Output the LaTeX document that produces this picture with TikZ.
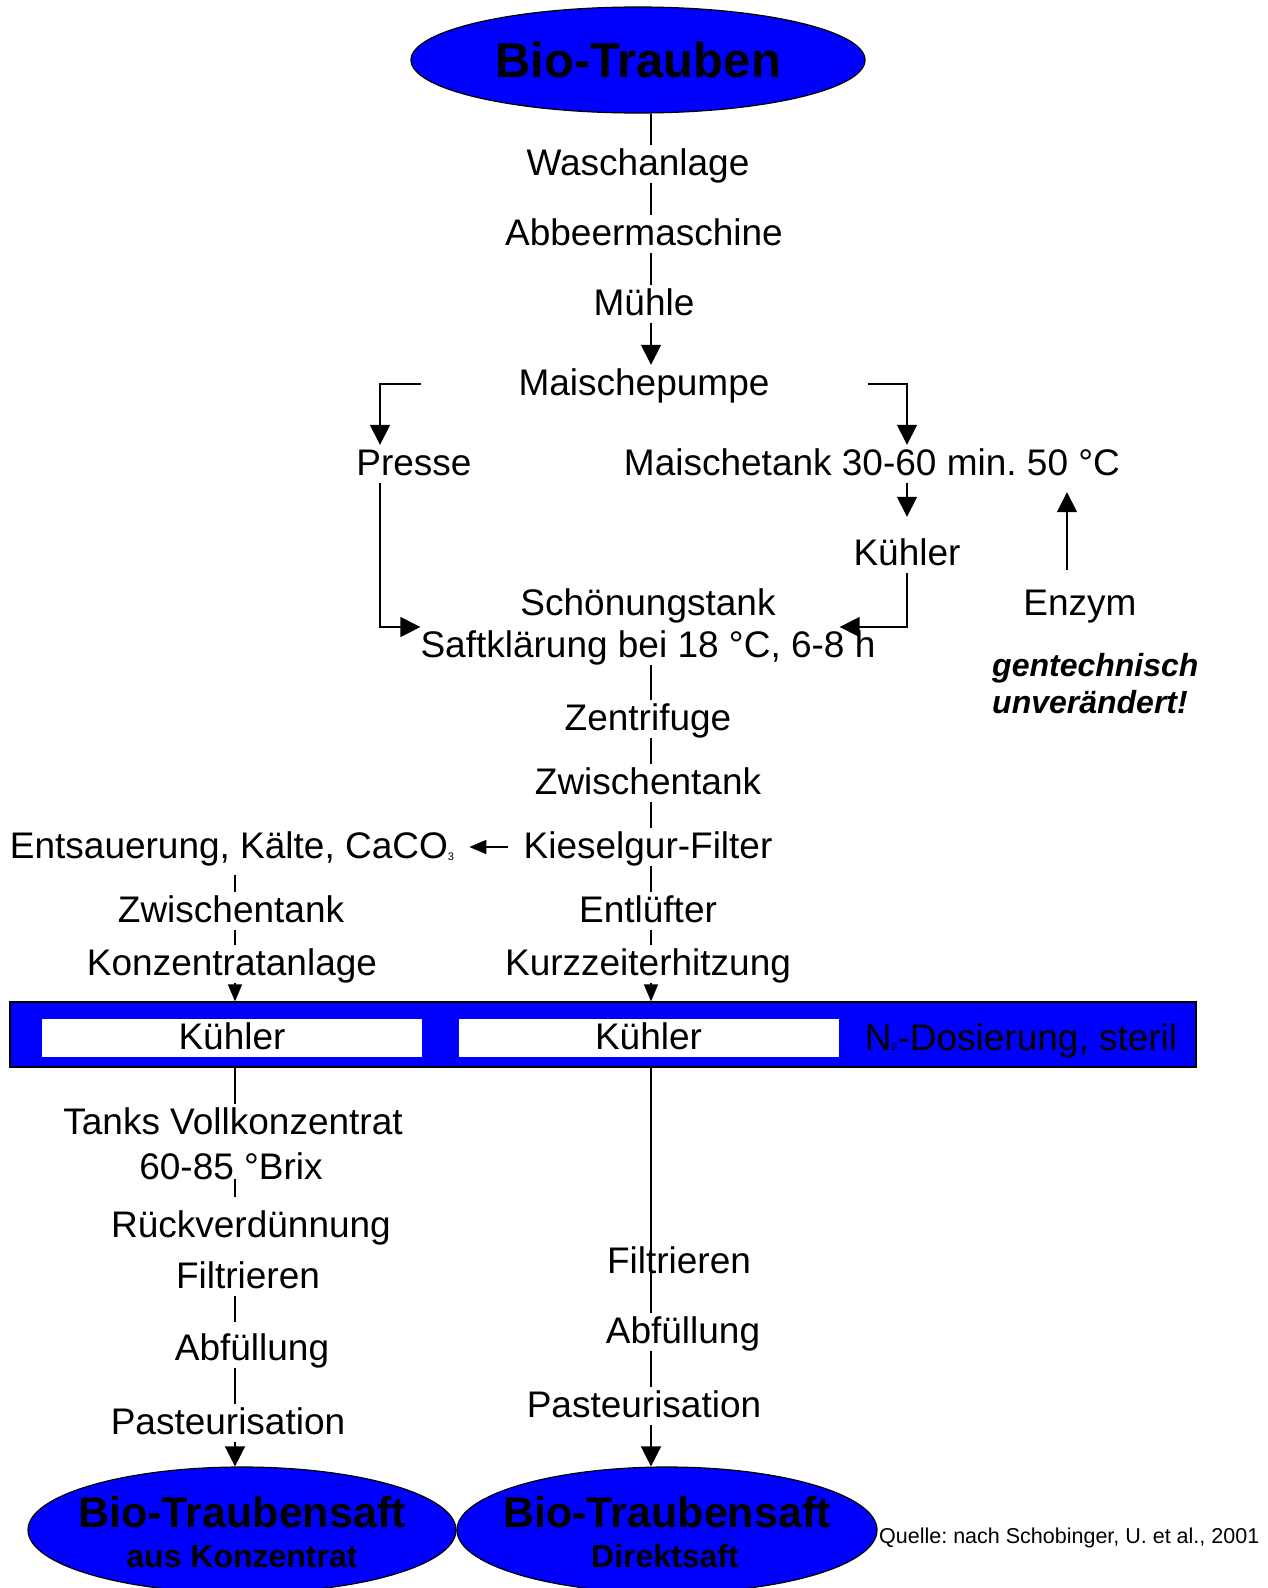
\documentclass[tikz,border=0pt]{standalone}
\usepackage{fontspec}
\setmainfont{Liberation Sans}
\usetikzlibrary{shapes.geometric,arrows.meta}
\newcommand{\tief}[1]{\raisebox{-2pt}{\fontsize{11}{11}\selectfont #1}}
\frenchspacing
\begin{document}
\begin{tikzpicture}[x=1pt,y=-1pt,
  schritt/.style={inner sep=0pt,anchor=base,text height=30pt,text depth=8pt,font=\fontsize{37}{44}\selectfont},
  oval/.style={ellipse,draw=black,line width=1.2pt,fill=blue,inner sep=0pt},
  linie/.style={line width=1.5pt},
  pfeil/.style={line width=1.5pt,-{Triangle[length=20pt,width=20pt]}},
  kpfeil/.style={line width=1.5pt,-{Triangle[length=17pt,width=14pt]}}]
\useasboundingbox (0,0) rectangle (1267,1588);
\coordinate (cM) at (651,0);
\coordinate (cL) at (235,0);
\coordinate (cP) at (380,0);
\coordinate (cK) at (907,0);
\coordinate (cE) at (1067,0);
\node[oval,minimum width=454pt,minimum height=106pt,font=\fontsize{49}{52}\selectfont\bfseries] (trauben) at (638,60) {Bio-Trauben};
\node[schritt] (wasch) at (638,175) {Waschanlage};
\node[schritt] (abbeer) at (644,245) {Abbeermaschine};
\node[schritt] (muehle) at (644,315) {Mühle};
\node[schritt] (pumpe) at (644,395) {Maischepumpe};
\node[schritt] (presse) at (414,475) {Presse};
\node[schritt] (mtank) at (872,475) {Maischetank 30-60 min. 50 °C};
\node[schritt] (kuehlA) at (907,565) {Kühler};
\node[schritt] (enzym) at (1080,615) {Enzym};
\node[inner sep=0pt,anchor=west,align=left,font=\fontsize{32}{37}\selectfont\bfseries\itshape] (gentech) at (992,684) {gentechnisch\\unverändert!};
\node[inner sep=0pt,align=center,font=\fontsize{37}{42}\selectfont] (klaer) at (648,627) {Schönungstank\\Saftklärung bei 18 °C, 6-8 h};
\node[schritt] (zentri) at (648,730) {Zentrifuge};
\node[schritt] (zwischenA) at (648,794) {Zwischentank};
\node[schritt] (kiesel) at (648,858) {Kieselgur-Filter};
\node[schritt] (entsaeuer) at (232,858) {Entsauerung, Kälte, CaCO\tief{3}};
\node[schritt] (zwischenB) at (231,922) {Zwischentank};
\node[schritt] (konz) at (232,975) {Konzentratanlage};
\node[schritt] (entluft) at (648,922) {Entlüfter};
\node[schritt] (kurz) at (648,975) {Kurzzeiterhitzung};
\node[draw=black,fill=blue,line width=1.2pt,minimum width=1186pt,minimum height=65pt,inner sep=0pt] (band) at (603,1034.5) {};
\node[fill=white,minimum width=380pt,minimum height=38pt,inner sep=0pt,text height=30pt,text depth=8pt,font=\fontsize{37}{44}\selectfont] (kuehlB) at (232,1038) {Kühler};
\node[fill=white,minimum width=380pt,minimum height=38pt,inner sep=0pt,text height=30pt,text depth=8pt,font=\fontsize{37}{44}\selectfont] (kuehlC) at (648.5,1038) {Kühler};
\node[schritt] (stickstoff) at (1021,1050) {N\raisebox{0pt}{\fontsize{11}{11}\selectfont 2}-Dosierung, steril};
\node[schritt] (tanks) at (233,1134) {Tanks Vollkonzentrat};
\node[schritt] (brix) at (231,1179) {60-85 °Brix};
\node[schritt] (rueck) at (251,1237) {Rückverdünnung};
\node[schritt] (filtB) at (248,1288) {Filtrieren};
\node[schritt] (abfB) at (252,1360) {Abfüllung};
\node[schritt] (pastB) at (228,1434) {Pasteurisation};
\node[schritt] (filtC) at (679,1273) {Filtrieren};
\node[schritt] (abfC) at (683,1343) {Abfüllung};
\node[schritt] (pastC) at (644,1417) {Pasteurisation};
\node[oval,minimum width=428pt,minimum height=126pt] (saftB) at (242,1530) {};
\node[oval,minimum width=420pt,minimum height=126pt] (saftC) at (667,1530) {};
\node[inner sep=0pt,anchor=base,font=\fontsize{43}{45}\selectfont\bfseries] (saftBtitel) at ([yshift=3pt]saftB.center) {Bio-Traubensaft};
\node[inner sep=0pt,anchor=base,font=\fontsize{32}{34}\selectfont\bfseries] (saftBsub) at ([yshift=-37pt]saftB.center) {aus Konzentrat};
\node[inner sep=0pt,anchor=base,font=\fontsize{43}{45}\selectfont\bfseries] (saftCtitel) at ([yshift=3pt]saftC.center) {Bio-Traubensaft};
\node[inner sep=0pt,anchor=base,font=\fontsize{32}{34}\selectfont\bfseries] (saftCsub) at ([yshift=-37pt,xshift=-2pt]saftC.center) {Direktsaft};
\node[inner sep=0pt,anchor=base west,font=\fontsize{21.5}{24}\selectfont] (quelle) at (879,1543) {Quelle: nach Schobinger, U. et al., 2001};
\draw[linie] (trauben.south -| cM) -- (wasch.north -| cM);
\draw[linie] (wasch.south -| cM) -- (abbeer.north -| cM);
\draw[linie] (abbeer.south -| cM) -- (muehle.north -| cM);
\draw[pfeil] (muehle.south -| cM) -- (pumpe.north -| cM);
\draw[pfeil] ([xshift=-97pt]pumpe.west) -| (presse.north -| cP);
\draw[pfeil] ([xshift=98pt]pumpe.east) -| (mtank.north -| cK);
\draw[pfeil,shorten >=18pt] (mtank.south -| cK) -- (kuehlA.north);
\draw[pfeil] (presse.south -| cP) |- (klaer.west);
\draw[pfeil] (kuehlA.south) |- ([xshift=-36pt]klaer.east);
\draw[pfeil,shorten <=15pt,shorten >=9pt] (enzym.north -| cE) -- (mtank.south -| cE);
\draw[linie] (klaer.south -| cM) -- (zentri.north -| cM);
\draw[linie] (zentri.south -| cM) -- (zwischenA.north -| cM);
\draw[linie] (zwischenA.south -| cM) -- (kiesel.north -| cM);
\draw[kpfeil,shorten <=15pt,shorten >=15pt] (kiesel.west) -- (entsaeuer.east);
\draw[linie] (kiesel.south -| cM) -- (entluft.north -| cM);
\draw[linie] (entluft.south -| cM) -- (kurz.north -| cM);
\draw[kpfeil] (kurz.south -| cM) -- (band.north -| cM);
\draw[linie,shorten <=9pt] (entsaeuer.south -| cL) -- (zwischenB.north -| cL);
\draw[linie] (zwischenB.south -| cL) -- (konz.north -| cL);
\draw[kpfeil] (konz.south -| cL) -- (band.north -| cL);
\draw[linie] (band.south -| cL) -- (tanks.north -| cL);
\draw[linie,shorten >=10pt] (brix.base -| cL) -- (rueck.north -| cL);
\draw[linie,shorten >=8pt] (filtB.south -| cL) -- (abfB.north -| cL);
\draw[linie] (abfB.south -| cL) -- (pastB.north -| cL);
\draw[pfeil] (pastB.south -| cL) -- (saftB.north -| cL);
\draw[linie] (band.south -| cM) -- (abfC.north -| cM);
\draw[linie] (abfC.south -| cM) -- (pastC.north -| cM);
\draw[pfeil] (pastC.south -| cM) -- (saftC.north -| cM);
\end{tikzpicture}
\end{document}
